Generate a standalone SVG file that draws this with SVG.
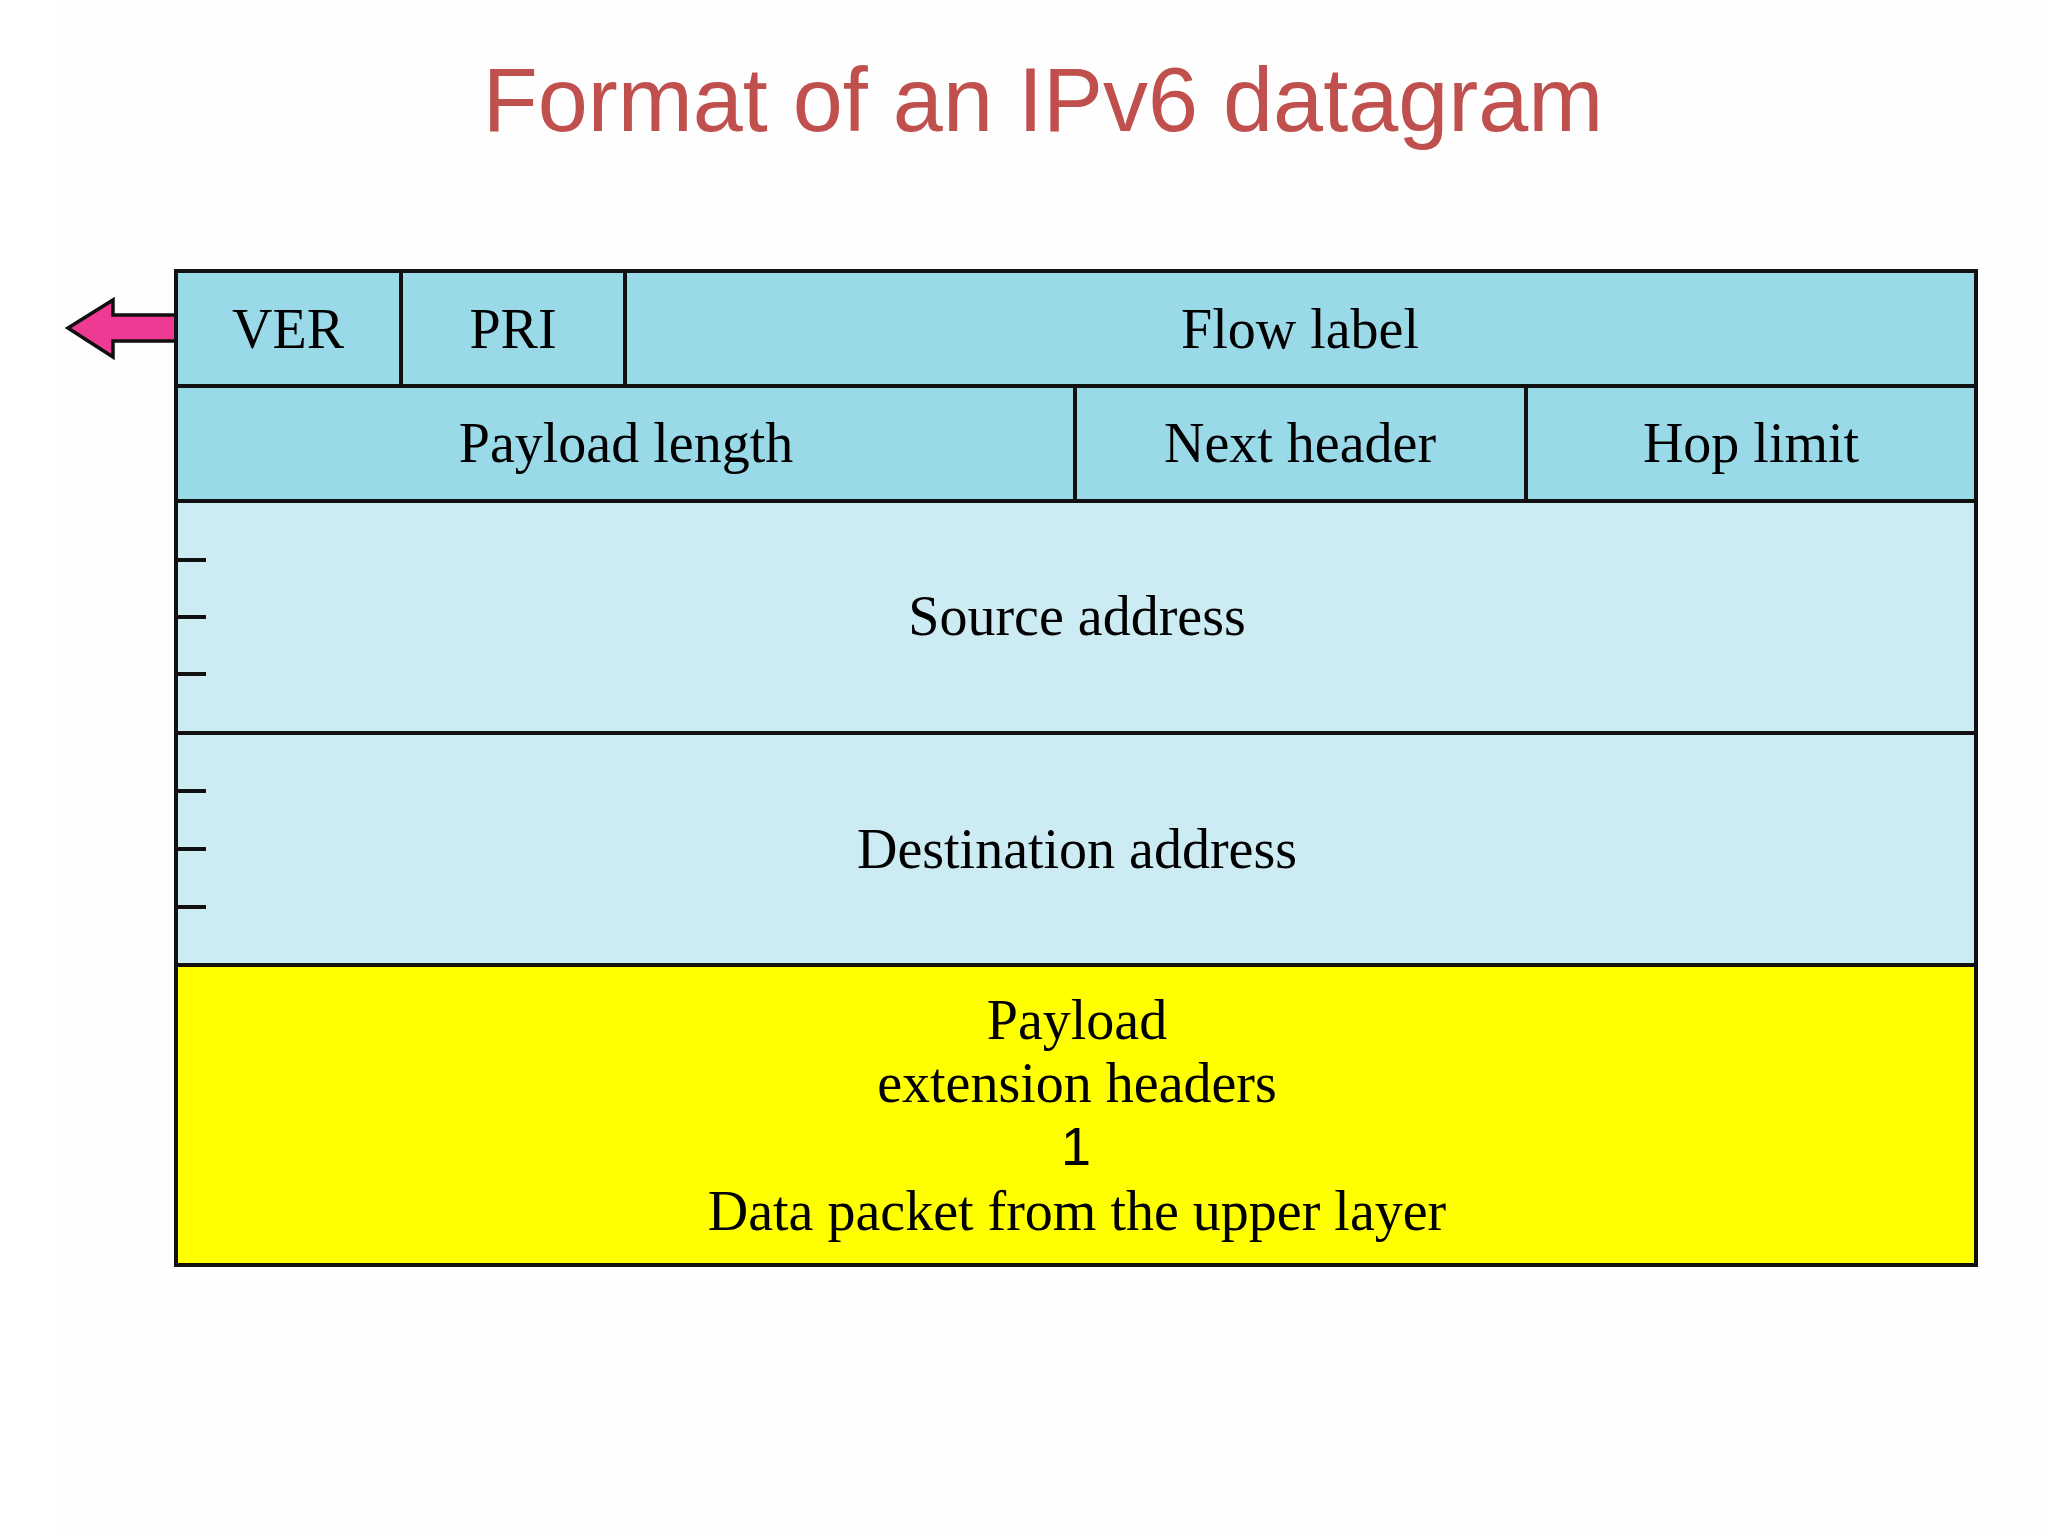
<svg xmlns="http://www.w3.org/2000/svg" width="2048" height="1536" viewBox="0 0 2048 1536">
<style>
.cell{stroke:#111;stroke-width:4}
.hdr{fill:#9AD9E8}
.addr{fill:#CCEBF3}
.pay{fill:#FFFF00}
.lbl{font-family:"Liberation Serif","Times New Roman",serif;font-size:56px;fill:#000;text-anchor:middle}
.tick{stroke:#111;stroke-width:4}
</style>
<rect x="0" y="0" width="2048" height="1536" fill="#FFFFFF"/>
<rect x="63" y="0" width="1985" height="1536" fill="#FEFEFE"/>
<text x="1043" y="131" font-family="Liberation Sans, Arial, sans-serif" font-size="90" fill="#C0504D" text-anchor="middle">Format of an IPv6 datagram</text>

<g id="connectors">
<polygon points="68,328 113,300 113,315 176,315 176,341 113,341 113,357" fill="#EE3A92" stroke="#111" stroke-width="3.5" stroke-linejoin="miter"/>
</g>

<g id="ver"><rect class="cell hdr" x="176" y="271" width="225" height="115"/><text class="lbl" x="288" y="348">VER</text></g>
<g id="pri"><rect class="cell hdr" x="401" y="271" width="224" height="115"/><text class="lbl" x="513" y="348">PRI</text></g>
<g id="flow-label"><rect class="cell hdr" x="625" y="271" width="1351" height="115"/><text class="lbl" x="1300" y="348">Flow label</text></g>

<g id="payload-length"><rect class="cell hdr" x="176" y="386" width="899" height="115"/><text class="lbl" x="626" y="462">Payload length</text></g>
<g id="next-header"><rect class="cell hdr" x="1075" y="386" width="451" height="115"/><text class="lbl" x="1300" y="462">Next header</text></g>
<g id="hop-limit"><rect class="cell hdr" x="1526" y="386" width="450" height="115"/><text class="lbl" x="1751" y="462">Hop limit</text></g>

<g id="source-address"><rect class="cell addr" x="176" y="501" width="1800" height="232"/>
<line class="tick" x1="176" y1="560" x2="206" y2="560"/><line class="tick" x1="176" y1="617" x2="206" y2="617"/><line class="tick" x1="176" y1="674" x2="206" y2="674"/>
<text class="lbl" x="1077" y="635">Source address</text></g>

<g id="destination-address"><rect class="cell addr" x="176" y="733" width="1800" height="232"/>
<line class="tick" x1="176" y1="791" x2="206" y2="791"/><line class="tick" x1="176" y1="849" x2="206" y2="849"/><line class="tick" x1="176" y1="907" x2="206" y2="907"/>
<text class="lbl" x="1077" y="868">Destination address</text></g>

<g id="payload"><rect class="cell pay" x="176" y="965" width="1800" height="300"/>
<text class="lbl" x="1077" y="1039">Payload</text>
<text class="lbl" x="1077" y="1102">extension headers</text>
<text x="1076" y="1165" font-family="Liberation Sans, Arial, sans-serif" font-size="54" fill="#000" text-anchor="middle">1</text>
<text class="lbl" x="1077" y="1230">Data packet from the upper layer</text></g>
</svg>
